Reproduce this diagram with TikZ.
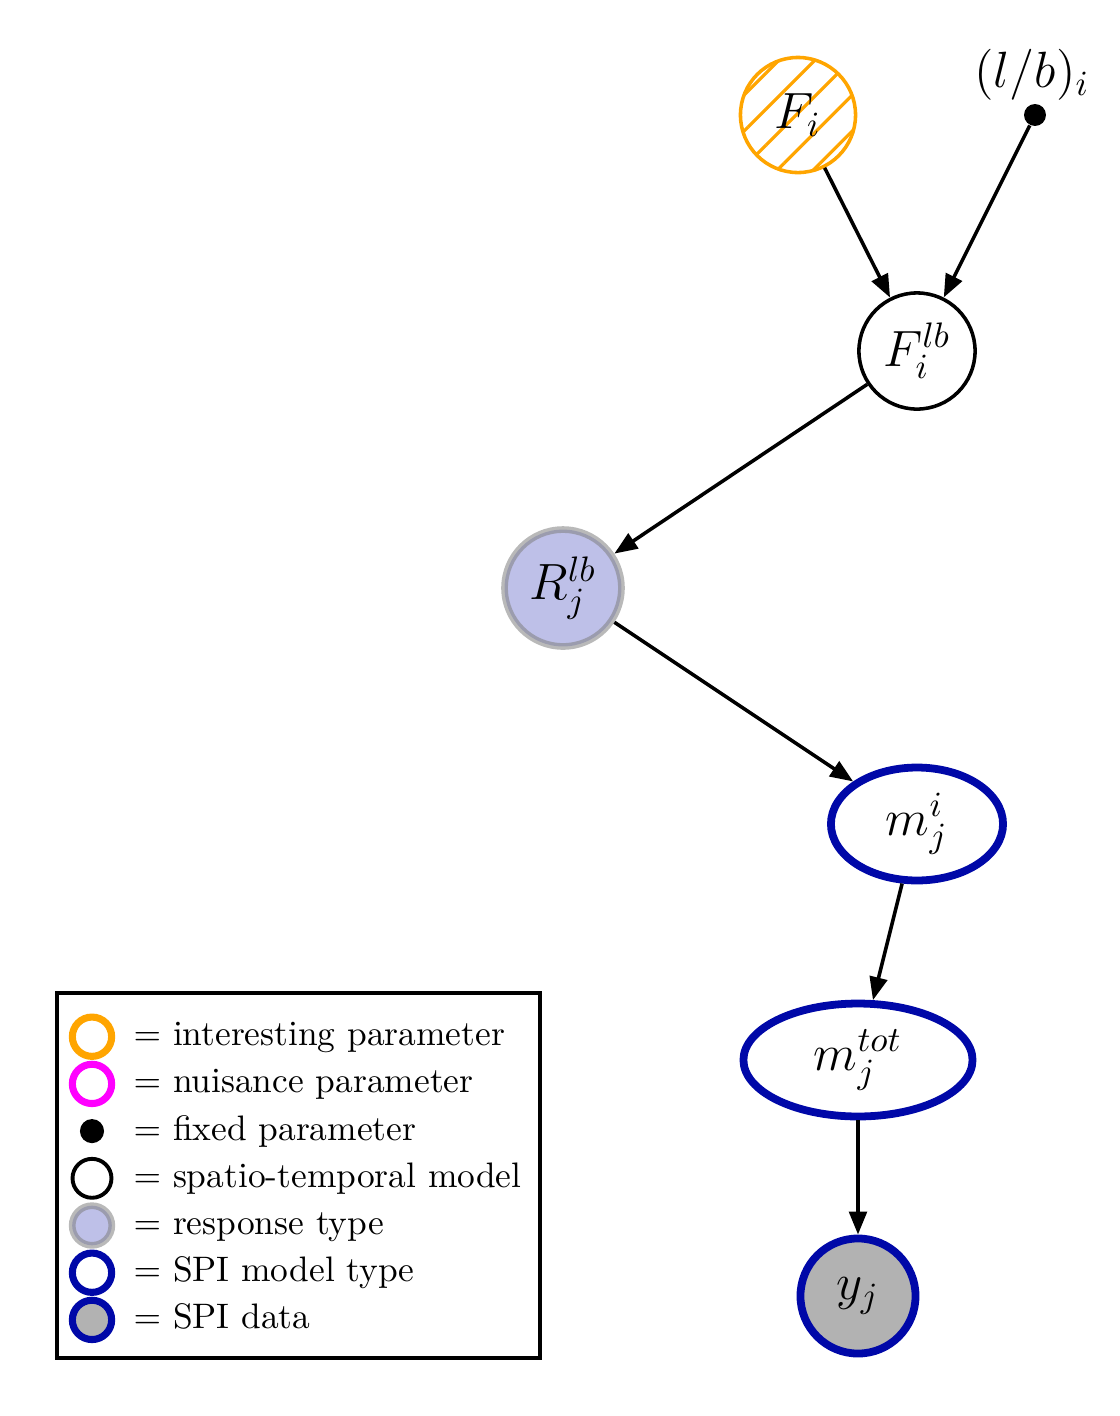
\documentclass[tikz,border=0pt]{standalone}
\usetikzlibrary{arrows.meta,shapes.geometric,patterns.meta}

\definecolor{paramorange}{RGB}{255,165,0}
\definecolor{nuismagenta}{RGB}{255,0,255}
\definecolor{spiblue}{RGB}{0,8,168}
\definecolor{resplav}{RGB}{190,192,232}
\definecolor{datagray}{RGB}{178,178,178}

\tikzset{
  edge/.style={-{Triangle[length=6.5pt,width=5pt]}, line width=1pt},
  param/.style={circle, draw=paramorange, line width=1pt, minimum size=32.5pt, inner sep=0pt,
    pattern={Lines[angle=45,distance=7.2pt,line width=0.9pt]}, pattern color=paramorange},
  fixed/.style={circle, fill=black, minimum size=6.2pt, inner sep=0pt},
  stmodel/.style={circle, draw, line width=1pt, minimum size=32.8pt, inner sep=0pt},
  resp/.style={circle, fill=resplav, draw=gray, draw opacity=0.55, line width=1.9pt, minimum size=33pt, inner sep=0pt},
  spimodel/.style={ellipse, draw=spiblue, line width=2.2pt, inner sep=0pt},
  spidata/.style={circle, fill=datagray, draw=spiblue, line width=2.2pt, minimum size=32.5pt, inner sep=0pt},
  % legend keys
  keyint/.style={circle, draw=paramorange, line width=2pt, minimum size=11.1pt, inner sep=0pt},
  keynuis/.style={circle, draw=nuismagenta, line width=2pt, minimum size=11.1pt, inner sep=0pt},
  keyfixed/.style={circle, fill=black, minimum size=6.8pt, inner sep=0pt},
  keyst/.style={circle, draw, line width=1.1pt, minimum size=11pt, inner sep=0pt},
  keyresp/.style={circle, fill=resplav, draw=gray, draw opacity=0.55, line width=1.9pt, minimum size=11.2pt, inner sep=0pt},
  keymodel/.style={circle, draw=spiblue, line width=2pt, minimum size=11.1pt, inner sep=0pt},
  keydata/.style={circle, fill=datagray, draw=spiblue, line width=2pt, minimum size=11.1pt, inner sep=0pt},
}

\begin{document}
\begin{tikzpicture}[x=0.2824pt, y=-0.2824pt]

\useasboundingbox (0,0) rectangle (1120,1416);

\node (fi) at (798,115) [param] {\Large $F_i$};
\node (lb) at (1035,115) [fixed] {};
\node (lbtxt) at (1032,75) {\Large $(l/b)_i$};
\node (flb) at (917,351) [stmodel] {\Large $F_i^{lb}$};
\node (rlb) at (563,588) [resp] {\Large $R_j^{lb}$};
\node (mi) at (917,824) [spimodel, minimum width=48.6pt, minimum height=31.9pt] {\Large $m_j^i$};
\node (mtot) at (858,1060) [spimodel, minimum width=64.7pt, minimum height=31.9pt] {\Large $m_j^{tot}$};
\node (y) at (858,1296) [spidata] {\Large $y_j$};

\draw [edge] (fi) -- (flb);
\draw [edge] (lb) -- (flb);
\draw [edge] (flb) -- (rlb);
\draw [edge] (rlb) -- (mi);
\draw [edge] (mi) -- (mtot);
\draw [edge] (mtot) -- (y);

% legend
\draw [line width=0.9pt] (57,993) rectangle (540,1358);
\foreach \sty/\txt [count=\k] in {keyint/interesting parameter, keynuis/nuisance parameter,
    keyfixed/fixed parameter, keyst/spatio-temporal model, keyresp/response type,
    keymodel/SPI model type, keydata/SPI data} {
  \node (key\k) at (92,{1036.7+47.2*(\k-1)}) [\sty] {};
  \node (keytxt\k) at (133,{1045.7+47.2*(\k-1)}) [anchor=base west, inner sep=0pt] {$=$ \txt};
}

\end{tikzpicture}
\end{document}
